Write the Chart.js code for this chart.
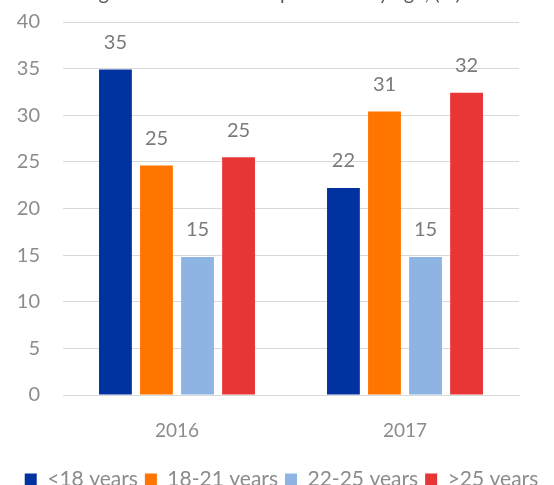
<!DOCTYPE html>
<html>
<head>
<meta charset="utf-8">
<script src="https://cdn.jsdelivr.net/npm/chart.js@4"></script>
<style>
  html, body { margin: 0; padding: 0; background: #fff; }
  #wrap { width: 554px; height: 485px; position: relative; }
</style>
</head>
<body>
<div id="wrap"><canvas id="ageChart"></canvas></div>
<script>
const years = ["2016", "2017"];
const under18 = [34.9, 22.2];
const age18to21 = [24.6, 30.4];
const age22to25 = [14.8, 14.8];
const over25 = [25.5, 32.4];
const under18Labels = ["35", "22"];
const age18to21Labels = ["25", "31"];
const age22to25Labels = ["15", "15"];
const over25Labels = ["25", "32"];
const yTicks = [0, 5, 10, 15, 20, 25, 30, 35, 40];
const chartTitle = "Age distribution of respondents by age, (%)";

const FONT = "Lato";
const grey = "#8c8c8c";

const canvas = document.getElementById("ageChart");
// the original text is set a little looser than Lato
canvas.getContext("2d").letterSpacing = "1px";

// title sits mostly above the canvas, only descenders show
const cutTitle = {
  id: "cutTitle",
  afterDraw(chart) {
    const ctx = chart.ctx;
    ctx.save();
    ctx.fillStyle = "#595959";
    ctx.font = "20px " + FONT;
    ctx.textAlign = "center";
    ctx.textBaseline = "alphabetic";
    ctx.fillText(chartTitle, 273, 0);
    ctx.restore();
  },
};

// value labels above each bar
const barLabels = {
  id: "barLabels",
  afterDatasetsDraw(chart) {
    const ctx = chart.ctx;
    ctx.save();
    ctx.fillStyle = "#7a7a7a";
    ctx.font = "20px " + FONT;
    ctx.textAlign = "center";
    ctx.textBaseline = "middle";
    chart.data.datasets.forEach((ds, i) => {
      chart.getDatasetMeta(i).data.forEach((bar, j) => {
        ctx.fillText(ds.valueLabels[j], bar.x, bar.y - 27);
      });
    });
    ctx.restore();
  },
};

function makeSet(label, data, labels, color) {
  return {
    label: label,
    data: data,
    valueLabels: labels,
    backgroundColor: color,
    borderWidth: 0,
    categoryPercentage: 0.72,
    barPercentage: 0.8,
  };
}

new Chart(canvas, {
  type: "bar",
  data: {
    labels: years,
    datasets: [
      makeSet("<18 years", under18, under18Labels, "#0033a0"),
      makeSet("18-21 years", age18to21, age18to21Labels, "#ff7500"),
      makeSet("22-25 years", age22to25, age22to25Labels, "#8db4e2"),
      makeSet(">25 years", over25, over25Labels, "#e83535"),
    ],
  },
  options: {
    responsive: true,
    maintainAspectRatio: false,
    animation: false,
    layout: { padding: { top: 22, right: 0, left: 9, bottom: -15 } },
    plugins: {
      title: { display: false },
      tooltip: { enabled: false },
      legend: {
        position: "bottom",
        labels: {
          boxWidth: 12,
          boxHeight: 12,
          padding: 7,
          color: grey,
          font: { family: FONT, size: 21, lineHeight: 1 },
        },
      },
    },
    scales: {
      x: {
        grid: { display: false, drawTicks: false },
        border: { display: true, color: "#d9d9d9", width: 1 },
        ticks: { color: grey, font: { family: FONT, size: 19 }, padding: 24 },
        afterFit(scale) { scale.height = 67; },
      },
      y: {
        min: 0,
        max: 40,
        afterBuildTicks(scale) {
          scale.ticks = yTicks.map((v) => ({ value: v }));
        },
        grid: { color: "#d9d9d9", lineWidth: 1, drawTicks: false },
        border: { display: false },
        ticks: { color: grey, font: { family: FONT, size: 20 }, padding: 23 },
        afterFit(scale) {
          scale.width = 54;
          scale.paddingTop = 0;
          scale.paddingBottom = 0;
        },
      },
      // empty right axis, only keeps the space right of the plot
      yRight: {
        position: "right",
        grid: { display: false, drawTicks: false },
        border: { display: false },
        ticks: { display: false },
        afterFit(scale) {
          scale.width = 35;
          scale.paddingTop = 0;
          scale.paddingBottom = 0;
        },
      },
    },
  },
  plugins: [cutTitle, barLabels],
});
</script>
</body>
</html>
